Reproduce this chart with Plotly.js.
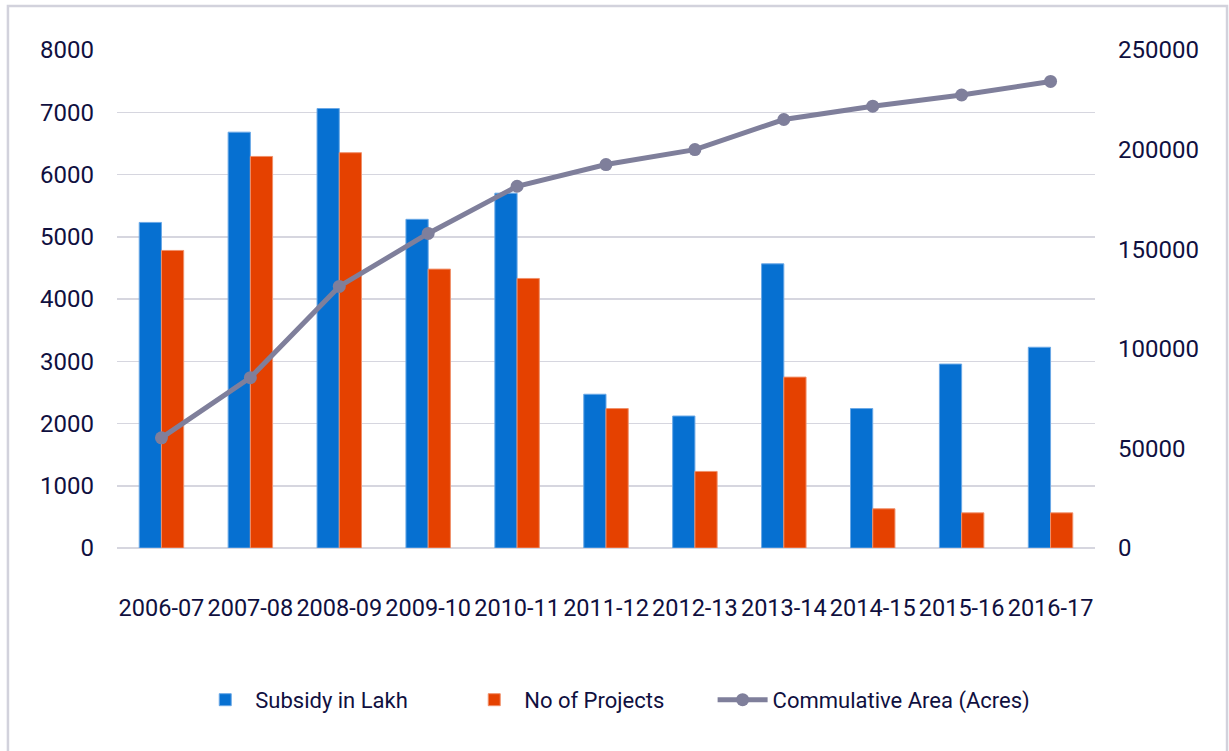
<!DOCTYPE html>
<html>
<head>
<meta charset="utf-8">
<script src="https://cdn.plot.ly/plotly-3.0.1.min.js"></script>
<style>
  html, body { margin: 0; padding: 0; background: #ffffff; }
  #chart { width: 1229px; height: 751px; }
</style>
</head>
<body>
<div id="chart"></div>
<script>
const categories = ["2006-07","2007-08","2008-09","2009-10","2010-11","2011-12","2012-13","2013-14","2014-15","2015-16","2016-17"];
const subsidyLakh = [5230, 6680, 7060, 5280, 5700, 2470, 2120, 4565, 2240, 2955, 3225];
const noOfProjects = [4780, 6290, 6350, 4480, 4330, 2240, 1230, 2745, 630, 565, 565];
const cumulativeArea = [55300, 85500, 131300, 157900, 181600, 192500, 200000, 215100, 221800, 227400, 234200];
const leftTicks = [0, 1000, 2000, 3000, 4000, 5000, 6000, 7000, 8000];
const rightTicks = [0, 50000, 100000, 150000, 200000, 250000];

const FONT = 'Roboto, "Liberation Sans", sans-serif';
const TEXT = '#10103f';

const traces = [
  { type: 'bar', name: 'Subsidy in Lakh', x: categories, y: subsidyLakh, legend: 'legend',
    marker: { color: '#0670d1', line: { color: '#6aa8e6', width: 1 } }, yaxis: 'y' },
  { type: 'bar', name: 'No of Projects', x: categories, y: noOfProjects, legend: 'legend',
    marker: { color: '#e54100', line: { color: '#f0906a', width: 1 } }, yaxis: 'y' },
  { type: 'scatter', mode: 'lines+markers', name: 'Commulative Area (Acres)', x: categories, y: cumulativeArea,
    legend: 'legend2', yaxis: 'y2', line: { color: '#7f7f9b', width: 5 },
    marker: { color: '#7f7f9b', size: 13, symbol: 'circle' } }
];

const layout = {
  width: 1229, height: 751,
  margin: { l: 117, r: 134, t: 50, b: 203, pad: 0 },
  paper_bgcolor: '#ffffff', plot_bgcolor: '#ffffff',
  font: { family: FONT, color: TEXT, size: 24 },
  barmode: 'group', bargap: 0.5, bargroupgap: 0,
  showlegend: true,
  legend: { orientation: 'h', x: 0.08, xanchor: 'left', y: -0.305, yanchor: 'middle',
            font: { family: FONT, size: 22, color: TEXT }, itemwidth: 50,
            entrywidth: 204, entrywidthmode: 'pixels', traceorder: 'normal' },
  legend2: { orientation: 'h', x: 0.609, xanchor: 'left', y: -0.305, yanchor: 'middle',
             font: { family: FONT, size: 22, color: TEXT }, itemwidth: 50 },
  xaxis: { type: 'category', range: [-0.5, categories.length - 0.5], tickangle: 0, showgrid: false, showline: false, zeroline: false,
           ticks: '', tickfont: { family: FONT, size: 23.5, color: TEXT }, ticklabelstandoff: 43, fixedrange: true },
  yaxis: { range: [0, 8000], tickvals: leftTicks, ticktext: leftTicks.map(String),
           showgrid: true, gridcolor: '#d6d6df', gridwidth: 1.5, zeroline: true, zerolinecolor: '#d6d6df', zerolinewidth: 1.5,
           showline: false, ticks: '', tickfont: { family: FONT, size: 24, color: TEXT }, ticklabelstandoff: 22, fixedrange: true },
  yaxis2: { overlaying: 'y', side: 'right', range: [0, 250000], tickvals: rightTicks, ticktext: rightTicks.map(String),
            showgrid: false, zeroline: false, showline: false, ticks: '',
            tickfont: { family: FONT, size: 24, color: TEXT }, ticklabelstandoff: 22, fixedrange: true },
  shapes: [
    { type: 'path', xref: 'paper', yref: 'paper',
      path: 'M -0.1115,-0.45 L -0.1115,1.0884 L 1.1350,1.0884 L 1.1350,-0.45',
      line: { color: '#d2d2dc', width: 2.5 }, layer: 'below' }
  ]
};

Plotly.newPlot('chart', traces, layout, { displayModeBar: false, staticPlot: true });
</script>
</body>
</html>
